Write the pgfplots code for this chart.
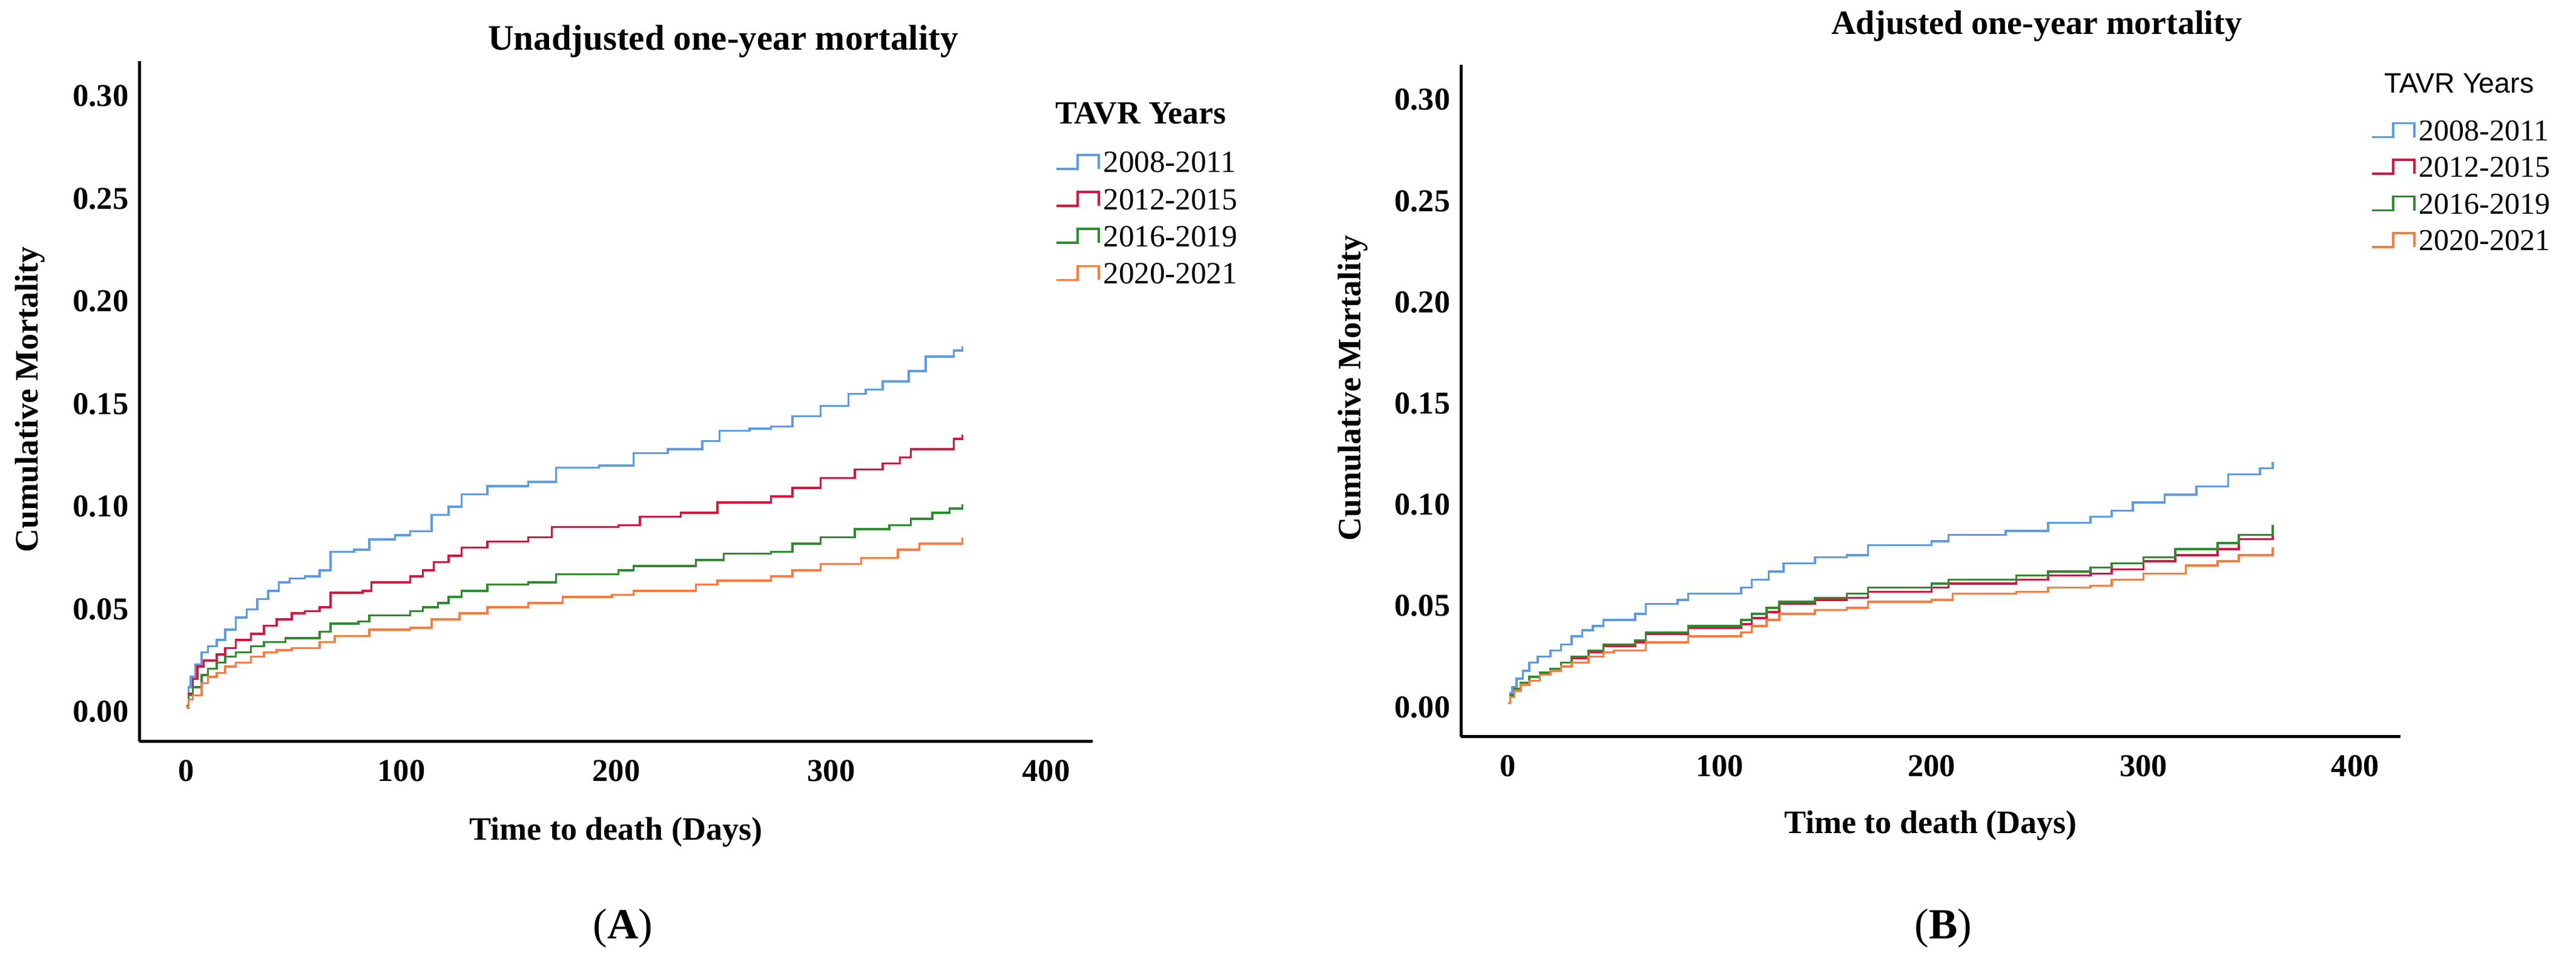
\documentclass[border=0pt]{standalone}
\usepackage{fontspec}
\setmainfont{Liberation Serif}
\newfontfamily\arialfont{Liberation Sans}
\usepackage{pgfplots}
\pgfplotsset{compat=1.18}

\definecolor{cblue}{HTML}{5B9BE8}
\definecolor{cred}{HTML}{D8133E}
\definecolor{cgreen}{HTML}{2E8B2E}
\definecolor{corange}{HTML}{FF7A3D}

\pgfplotsset{
  kmaxis/.style={
    scale only axis, anchor=south west, clip=false,
    axis x line*=bottom, axis y line*=left,
    axis line style={-, line width=1bp, black},
    tick style={draw=none}, major tick length=0pt,
    xtick={0,100,200,300,400},
    ytick={0,0.05,0.10,0.15,0.20,0.25,0.30},
    /pgf/number format/assume math mode=true,
    ticklabel style={font=\fontsize{10.5bp}{12bp}\selectfont\bfseries},
    yticklabel style={/pgf/number format/.cd, fixed, fixed zerofill, precision=2},
    xticklabel style={yshift=-2.5bp},
    xlabel={Time to death (Days)},
    ylabel={Cumulative Mortality},
    label style={font=\fontsize{10.8bp}{12bp}\selectfont\bfseries},
    legend cell align=left,
    legend image code/.code={
      \draw[#1] (0bp,-1.45bp) -- (7bp,-1.45bp) -- (7bp,3.15bp) -- (14bp,3.15bp) -- (14bp,-1.45bp);},
    legend style={draw=none, fill=none, inner sep=0pt, anchor=north west,
      nodes={inner sep=0pt}, row sep=3.95bp, column sep=1.2bp},
    every axis plot/.append style={const plot, line width=0.7bp},
  }
}

\begin{document}
\begin{tikzpicture}
\useasboundingbox (0,0) rectangle (851bp,317.8bp);

% ---------- (A) unadjusted ----------
\begin{axis}[kmaxis,
  at={(46bp,72.8bp)}, width=315bp, height=224.8bp,
  xmin=-22, xmax=421.7, ymin=-0.0145, ymax=0.317,
  title={Unadjusted one-year mortality},
  title style={at={(axis description cs:0.6124,0.9902)}, anchor=base,
    font=\fontsize{11.8bp}{14bp}\selectfont\bfseries},
  xlabel style={at={(axis description cs:0.5,-0.145)}, anchor=base},
  ylabel style={at={(axis description cs:-0.1143,0.5027)}, anchor=center},
  legend style={at={(rel axis cs:0.96,0.8674)}, font=\fontsize{10.2bp}{12bp}\selectfont},
]
\addplot[cblue] coordinates {
 (0,0.002) (1,0.012) (2,0.017) (4,0.023) (7,0.029) (10,0.032) (14,0.035)
 (18,0.040) (23,0.046) (28,0.050) (33,0.055) (38,0.059) (43,0.063) (48,0.065)
 (55,0.066) (62,0.069) (67,0.078) (78,0.079) (85,0.084) (97,0.086) (104,0.088)
 (114,0.096) (122,0.100) (128,0.106) (140,0.110) (159,0.112) (172,0.119)
 (192,0.120) (208,0.126) (224,0.128) (240,0.132) (248,0.137) (262,0.138)
 (272,0.139) (282,0.144) (295,0.149) (308,0.155) (316,0.157) (324,0.161)
 (336,0.166) (344,0.173) (357,0.176) (361,0.178)};
\addlegendentry{2008-2011}
\addplot[cred] coordinates {
 (0,0.003) (1,0.009) (3,0.016) (5,0.022) (8,0.025) (14,0.028) (18,0.031)
 (23,0.035) (30,0.038) (36,0.042) (42,0.045) (49,0.048) (55,0.049) (62,0.051)
 (67,0.058) (82,0.059) (86,0.063) (104,0.066) (110,0.069) (115,0.073)
 (122,0.076) (128,0.080) (140,0.083) (159,0.085) (170,0.090) (201,0.091)
 (211,0.095) (230,0.097) (247,0.102) (272,0.105) (282,0.109) (295,0.114)
 (311,0.118) (324,0.121) (332,0.124) (337,0.128) (357,0.133) (361,0.135)};
\addlegendentry{2012-2015}
\addplot[cgreen] coordinates {
 (0,0.003) (1,0.008) (3,0.012) (7,0.018) (10,0.021) (14,0.024) (18,0.027)
 (23,0.029) (30,0.032) (36,0.034) (46,0.036) (62,0.039) (67,0.043) (80,0.044)
 (85,0.047) (104,0.049) (110,0.051) (117,0.053) (122,0.056) (128,0.059)
 (140,0.062) (159,0.063) (172,0.067) (201,0.069) (208,0.071) (237,0.074)
 (250,0.077) (272,0.078) (282,0.082) (295,0.085) (311,0.089) (327,0.091)
 (337,0.094) (347,0.097) (355,0.099) (361,0.101)};
\addlegendentry{2016-2019}
\addplot[corange] coordinates {
 (0,0.002) (1,0.006) (3,0.008) (7,0.014) (10,0.017) (14,0.019) (18,0.022)
 (23,0.024) (30,0.027) (36,0.029) (42,0.030) (49,0.031) (62,0.034) (69,0.037)
 (85,0.040) (104,0.041) (114,0.045) (127,0.048) (140,0.051) (159,0.053)
 (175,0.056) (198,0.057) (208,0.059) (237,0.062) (247,0.064) (272,0.066)
 (282,0.069) (295,0.072) (314,0.075) (331,0.079) (341,0.082) (361,0.085)};
\addlegendentry{2020-2021}
\node[anchor=west, inner sep=0pt, font=\fontsize{10.7bp}{12bp}\selectfont\bfseries]
  at (rel axis cs:0.96,0.9235) {TAVR Years};
\end{axis}

% ---------- (B) adjusted ----------
\begin{axis}[kmaxis,
  at={(482.6bp,74.4bp)}, width=310.4bp, height=222bp,
  xmin=-22.3, xmax=421.4, ymin=-0.01466, ymax=0.3173,
  title={Adjusted one-year mortality},
  title style={at={(axis description cs:0.6128,1.0189)}, anchor=base,
    font=\fontsize{11.2bp}{14bp}\selectfont\bfseries},
  xlabel style={at={(axis description cs:0.5,-0.144)}, anchor=base},
  ylabel style={at={(axis description cs:-0.1147,0.519)}, anchor=center},
  legend style={at={(rel axis cs:0.9678,0.918)}, font=\fontsize{10bp}{12bp}\selectfont},
]
\addplot[cblue] coordinates {
 (0,0.002) (1,0.007) (2,0.010) (4,0.014) (7,0.018) (10,0.022) (14,0.025)
 (20,0.028) (25,0.031) (30,0.035) (35,0.038) (40,0.040) (45,0.043) (60,0.046)
 (65,0.051) (80,0.053) (85,0.056) (110,0.059) (115,0.063) (123,0.067)
 (130,0.071) (145,0.074) (160,0.075) (170,0.080) (200,0.082) (208,0.085)
 (235,0.087) (255,0.091) (275,0.094) (285,0.097) (295,0.101) (310,0.105)
 (325,0.109) (340,0.115) (355,0.118) (361,0.121)};
\addlegendentry{2008-2011}
\addplot[cred] coordinates {
 (0,0.002) (1,0.006) (3,0.009) (6,0.012) (10,0.015) (15,0.017) (20,0.019)
 (25,0.022) (30,0.024) (38,0.027) (45,0.030) (60,0.032) (65,0.036) (85,0.039)
 (110,0.041) (115,0.044) (122,0.047) (128,0.051) (145,0.053) (160,0.054)
 (170,0.057) (200,0.059) (208,0.061) (240,0.063) (255,0.065) (275,0.066)
 (285,0.068) (300,0.072) (315,0.075) (335,0.078) (345,0.083) (361,0.087)};
\addlegendentry{2012-2015}
\addplot[cgreen] coordinates {
 (0,0.002) (1,0.006) (3,0.009) (6,0.012) (10,0.015) (15,0.017) (20,0.019)
 (25,0.022) (30,0.025) (38,0.028) (45,0.031) (60,0.033) (65,0.037) (85,0.040)
 (110,0.043) (115,0.046) (122,0.049) (128,0.052) (145,0.054) (160,0.056)
 (170,0.059) (200,0.061) (208,0.063) (240,0.065) (255,0.067) (275,0.069)
 (285,0.071) (300,0.074) (315,0.078) (335,0.081) (345,0.085) (361,0.090)};
\addlegendentry{2016-2019}
\addplot[corange] coordinates {
 (0,0.002) (1,0.005) (3,0.008) (6,0.011) (10,0.013) (15,0.016) (20,0.018)
 (25,0.020) (30,0.022) (38,0.025) (45,0.027) (50,0.028) (65,0.032) (85,0.035)
 (110,0.037) (115,0.040) (122,0.043) (128,0.046) (145,0.048) (160,0.049)
 (170,0.052) (200,0.053) (210,0.056) (240,0.057) (255,0.059) (275,0.060)
 (285,0.063) (300,0.066) (320,0.070) (335,0.072) (345,0.075) (361,0.079)};
\addlegendentry{2020-2021}
\node[anchor=west, inner sep=0pt, font=\arialfont\fontsize{9.3bp}{11bp}\selectfont]
  at (rel axis cs:0.982,0.972) {TAVR Years};
\end{axis}

\node[anchor=base, inner sep=0pt, font=\fontsize{14.2bp}{16bp}\selectfont]
  at (205.8bp,7.8bp) {(\textbf{A})};
\node[anchor=base, inner sep=0pt, font=\fontsize{14.2bp}{16bp}\selectfont]
  at (642bp,7.8bp) {(\textbf{B})};
\end{tikzpicture}
\end{document}
